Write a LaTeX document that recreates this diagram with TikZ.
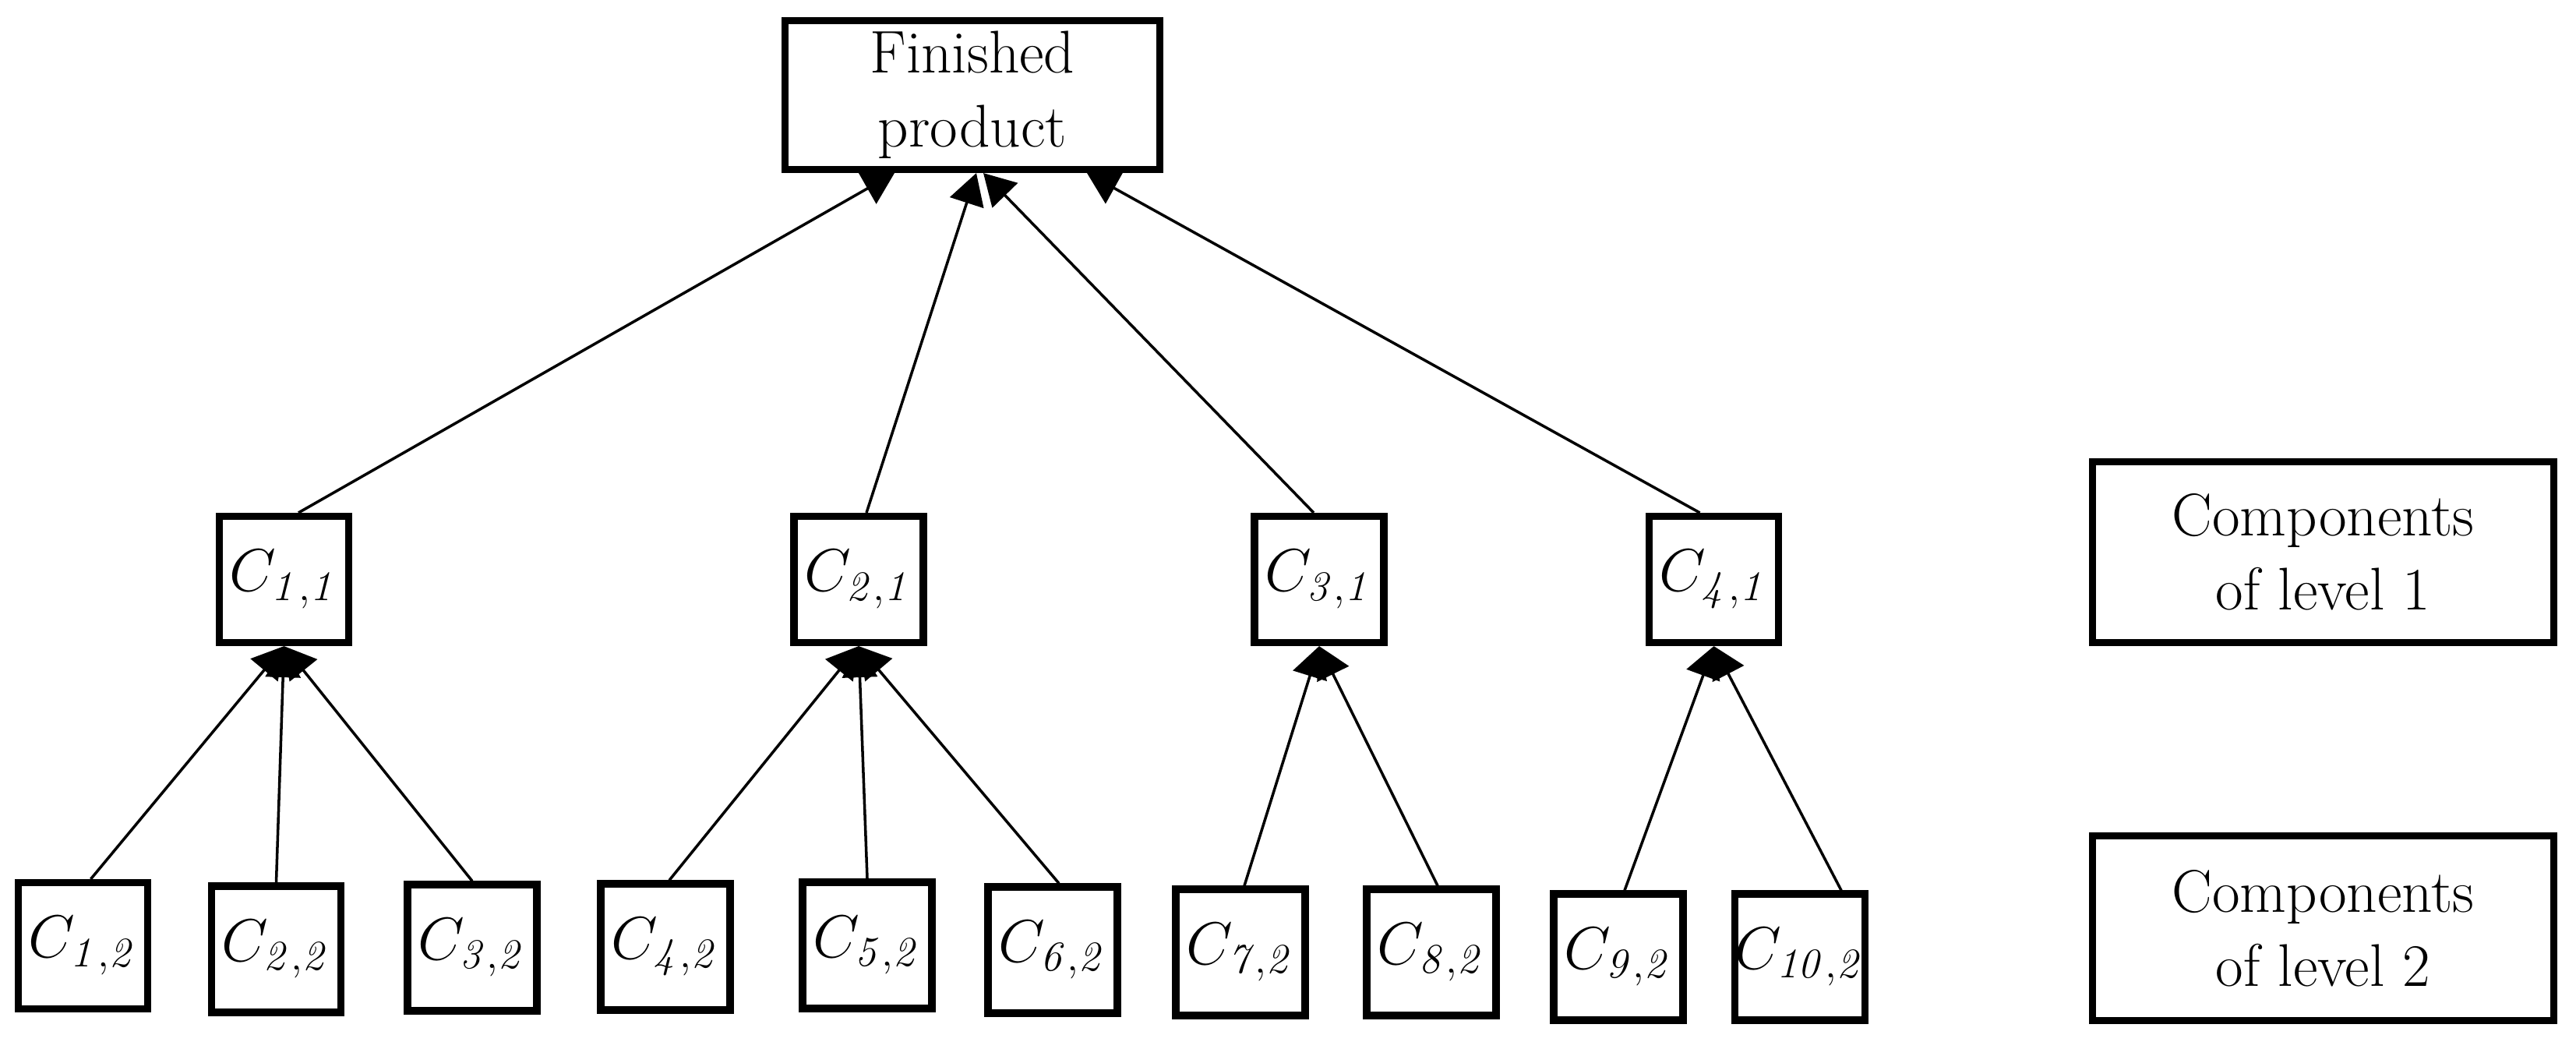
\RequirePackage{fix-cm}
\documentclass[tikz,border=0pt]{standalone}
\usetikzlibrary{arrows.meta}
\tikzset{
  every picture/.style={font=\fontsize{22}{27}\selectfont, line width=1pt},
  comp/.style={draw, line width=2.6pt, minimum width=1.66cm, minimum height=1.62cm, inner sep=0pt},
  lvlbox/.style={draw, line width=2.6pt, align=center, inner sep=0pt},
  arrow/.style={-{Triangle[length=4mm, width=4.5mm]}, line width=1pt},
}

\begin{document}
\begin{tikzpicture}
\useasboundingbox (0,0) rectangle (33.06,13.36);
% finished product
\node[lvlbox, minimum width=4.81cm, minimum height=1.91cm] (fp) at (12.48,12.14) {Finished\\product};
% level 1
\foreach \x [count=\i] in {3.645,11.02,16.93,21.995}
  \node[comp] (c\i) at (\x,5.925) {$C_{\mathit{\i,1}}$};
% level 2
\foreach \x/\y [count=\i] in {1.065/1.225,3.545/1.18,6.06/1.2,8.54/1.21,11.13/1.23,13.51/1.17,15.92/1.14,18.37/1.14,20.77/1.08,23.10/1.08}
  \node[comp] (p\i) at (\x,\y) {$C_{\mathit{\i,2}}$};
% legend
\node[lvlbox, minimum width=5.92cm, minimum height=2.32cm] (lv1) at (29.815,6.275) {Components\\of level 1};
\node[lvlbox, minimum width=5.92cm, minimum height=2.37cm] (lv2) at (29.815,1.45) {Components\\of level 2};
% connectors
\foreach \i/\s/\t in {1/0.185/-1.0, 2/0.10/0.05, 3/-0.07/0.14, 4/-0.18/1.47}
  \draw[arrow] ([xshift=\s cm]c\i.north) -- ([xshift=\t cm]fp.south);
\foreach \i/\j/\s in {1/1/0.1, 2/1/0, 3/1/0, 4/2/0.05, 5/2/0, 6/2/0.08, 7/3/0.05, 8/3/0.08, 9/4/0.08, 10/4/0.53}
  \draw[arrow] ([xshift=\s cm]p\i.north) -- (c\j.south);
\end{tikzpicture}
\end{document}
